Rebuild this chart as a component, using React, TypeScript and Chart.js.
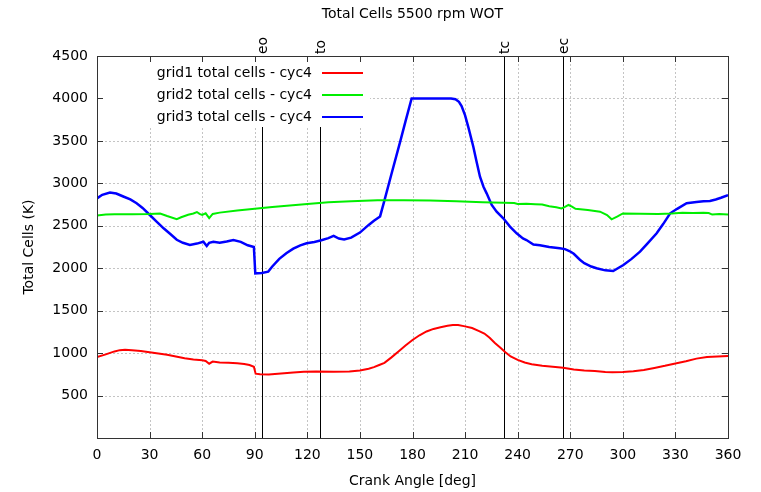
import React, { useEffect, useRef } from "react";
import { Chart, registerables } from "chart.js";

Chart.register(...registerables);

const titleText = "Total Cells 5500 rpm WOT";
const xTitle = "Crank Angle [deg]";
const yTitle = "Total Cells (K)";

const seriesNames = ["grid1 total cells - cyc4", "grid2 total cells - cyc4", "grid3 total cells - cyc4"];
const seriesColors = ["#ff0000", "#00ee00", "#0000ff"];

const eventAngles = [94, 127.5, 232, 266];
const eventLabels = ["eo", "to", "tc", "ec"];

const xTicks = [0, 30, 60, 90, 120, 150, 180, 210, 240, 270, 300, 330, 360];
const yTicks = [0, 500, 1000, 1500, 2000, 2500, 3000, 3500, 4000, 4500];

const redAngle = [0, 5, 10, 13, 16, 20, 25, 30, 35, 40, 45, 50, 55, 60, 62, 64, 66, 70, 75, 80, 84, 87, 89.5, 90.5, 93, 98, 105, 112, 118, 125, 135, 144, 150, 155, 158, 161, 164, 168, 172, 176, 180, 184, 188, 192, 196, 200, 203, 206, 210, 214, 218, 221, 224, 227, 230, 233, 236, 240, 244, 248, 254, 260, 266, 272, 278, 284, 290, 294, 300, 306, 312, 318, 324, 330, 336, 342, 348, 354, 360];
const redVal = [955, 985, 1020, 1035, 1040, 1035, 1025, 1010, 995, 980, 960, 940, 925, 915, 908, 875, 900, 890, 885, 880, 872, 860, 840, 758, 752, 748, 760, 772, 780, 782, 780, 782, 795, 815, 835, 860, 885, 950, 1020, 1090, 1155, 1210, 1255, 1285, 1305, 1322, 1332, 1330, 1315, 1295, 1260, 1230, 1180, 1120, 1065, 1010, 960, 920, 890, 870, 850, 840, 828, 808, 795, 788, 778, 774, 778, 785, 800, 825, 850, 878, 905, 935, 955, 960, 966];

const greenAngle = [0, 5, 10, 20, 30, 36, 40, 45.5, 48, 52, 55, 57, 58.5, 60, 62, 64, 66, 70, 80, 90, 100, 110, 120, 132, 145, 160, 175, 190, 205, 220, 232, 238, 240, 245, 250, 254, 258, 262, 265, 267, 269, 271, 273, 280, 287, 291, 293.6, 297, 300, 310, 320, 328, 334, 340, 346, 349, 351, 355, 360];
const greenVal = [2620, 2632, 2635, 2637, 2640, 2645, 2615, 2578, 2600, 2630, 2645, 2662, 2640, 2628, 2647, 2590, 2640, 2655, 2680, 2700, 2720, 2740, 2757, 2776, 2790, 2800, 2800, 2798, 2790, 2778, 2770, 2768, 2758, 2760, 2755, 2750, 2730, 2718, 2705, 2722, 2745, 2725, 2700, 2685, 2666, 2627, 2576, 2610, 2645, 2642, 2640, 2645, 2652, 2650, 2652, 2650, 2632, 2638, 2632];

const blueAngle = [0, 3, 7.4, 11, 15, 19, 22.6, 26, 30, 34, 38, 42, 45.5, 49, 53, 57, 60.7, 62.6, 64, 66.4, 70, 74, 77.8, 82, 86, 89.5, 90.3, 94, 97.7, 100, 104, 108, 112, 116, 119.6, 124, 128, 132, 135, 138, 141, 145, 150, 155, 158, 161.5, 164, 168, 172.9, 176, 179.5, 185, 195, 202, 204.5, 206.5, 208, 210, 212, 214.7, 216.5, 218.5, 220.5, 222.3, 225.2, 228, 231.8, 235.6, 239.4, 243, 245, 249, 252.7, 258, 264, 267, 269.8, 272, 275.5, 278, 282, 285, 290, 294.5, 300.3, 305, 309.8, 314, 319.3, 323, 327, 331, 336.4, 342, 346, 349.7, 353, 356, 360];
const blueVal = [2823, 2865, 2892, 2880, 2845, 2810, 2765, 2710, 2630, 2550, 2470, 2400, 2335, 2300, 2275, 2290, 2312, 2262, 2300, 2312, 2300, 2315, 2332, 2310, 2270, 2250, 1940, 1945, 1960, 2020, 2110, 2176, 2230, 2270, 2294, 2310, 2330, 2355, 2380, 2350, 2340, 2360, 2420, 2510, 2560, 2610, 2800, 3110, 3485, 3730, 4000, 4000, 4000, 4000, 3990, 3960, 3910, 3800, 3650, 3431, 3260, 3078, 2960, 2882, 2745, 2666, 2588, 2490, 2411, 2350, 2332, 2280, 2270, 2250, 2234, 2225, 2200, 2170, 2100, 2060, 2020, 1999, 1975, 1967, 2038, 2110, 2195, 2290, 2411, 2520, 2647, 2700, 2765, 2780, 2790, 2792, 2810, 2830, 2862];

const FONT = "'DejaVu Sans', sans-serif";

function pts(xs: number[], ys: number[]) {
  return xs.map((x, i) => ({ x, y: ys[i] }));
}

const decorPlugin = {
  id: "decor",
  beforeDatasetsDraw(chart: any) {
    const { ctx, chartArea: a, scales } = chart;
    const xs = scales.x;
    const ys = scales.y;
    ctx.save();
    ctx.strokeStyle = "#c4c4c4";
    ctx.lineWidth = 1;
    ctx.setLineDash([2, 2]);
    xTicks.forEach((t) => {
      if (t <= 0 || t >= 360) return;
      const px = Math.round(xs.getPixelForValue(t)) + 0.5;
      ctx.beginPath();
      ctx.moveTo(px, a.top);
      ctx.lineTo(px, a.bottom);
      ctx.stroke();
    });
    yTicks.forEach((t) => {
      if (t <= 0 || t >= 4500) return;
      const py = Math.round(ys.getPixelForValue(t)) + 0.5;
      ctx.beginPath();
      ctx.moveTo(a.left, py);
      ctx.lineTo(a.right, py);
      ctx.stroke();
    });
    ctx.setLineDash([]);
    ctx.strokeStyle = "#000";
    eventAngles.forEach((ang) => {
      const px = Math.round(xs.getPixelForValue(ang)) + 0.5;
      ctx.beginPath();
      ctx.moveTo(px, a.top);
      ctx.lineTo(px, a.bottom);
      ctx.stroke();
    });
    ctx.fillStyle = "#000";
    ctx.font = `14px ${FONT}`;
    eventAngles.forEach((ang, i) => {
      const px = Math.round(xs.getPixelForValue(ang)) + 1.5;
      ctx.save();
      ctx.translate(px, a.top - 2);
      ctx.rotate(-Math.PI / 2);
      ctx.textAlign = "left";
      ctx.textBaseline = "middle";
      ctx.fillText(eventLabels[i], 0, 0);
      ctx.restore();
    });
    ctx.fillStyle = "#fff";
    ctx.fillRect(a.left + 1, a.top + 1, 272, 70);
    ctx.font = `14px ${FONT}`;
    ctx.textAlign = "right";
    ctx.textBaseline = "middle";
    seriesNames.forEach((name, i) => {
      const y = a.top + 17 + i * 22;
      ctx.fillStyle = "#000";
      ctx.fillText(name, 312, y);
      ctx.strokeStyle = seriesColors[i];
      ctx.lineWidth = 2;
      ctx.beginPath();
      ctx.moveTo(322, y);
      ctx.lineTo(363, y);
      ctx.stroke();
    });
    ctx.restore();
  },
  afterDatasetsDraw(chart: any) {
    const { ctx, chartArea: a, scales } = chart;
    const xs = scales.x;
    const ys = scales.y;
    ctx.save();
    ctx.strokeStyle = "#333";
    ctx.lineWidth = 1;
    const L = 6;
    xTicks.forEach((t) => {
      const px = Math.round(xs.getPixelForValue(t)) + 0.5;
      ctx.beginPath();
      ctx.moveTo(px, a.bottom);
      ctx.lineTo(px, a.bottom - L);
      ctx.moveTo(px, a.top);
      ctx.lineTo(px, a.top + L);
      ctx.stroke();
    });
    yTicks.forEach((t) => {
      const py = Math.round(ys.getPixelForValue(t)) + 0.5;
      ctx.beginPath();
      ctx.moveTo(a.left, py);
      ctx.lineTo(a.left + L, py);
      ctx.moveTo(a.right, py);
      ctx.lineTo(a.right - L, py);
      ctx.stroke();
    });
    ctx.strokeRect(Math.round(a.left) + 0.5, Math.round(a.top) + 0.5, Math.round(a.right - a.left), Math.round(a.bottom - a.top));
    ctx.restore();
  },
  afterDraw(chart: any) {
    const { ctx, chartArea: a } = chart;
    ctx.save();
    ctx.fillStyle = "#000";
    ctx.font = `14px ${FONT}`;
    ctx.textAlign = "center";
    ctx.textBaseline = "middle";
    const cx = (a.left + a.right) / 2;
    ctx.fillText(titleText, cx, 14);
    ctx.fillText(xTitle, cx, 481);
    ctx.translate(29, (a.top + a.bottom) / 2);
    ctx.rotate(-Math.PI / 2);
    ctx.fillText(yTitle, 0, 0);
    ctx.restore();
  },
};

export default function App() {
  const ref = useRef<HTMLCanvasElement | null>(null);
  useEffect(() => {
    document.body.style.margin = "0";
    const canvas = ref.current;
    if (!canvas) return;
    Chart.defaults.font.family = FONT;
    const chart = new Chart(canvas, {
      type: "line",
      data: {
        datasets: [
          { label: seriesNames[0], data: pts(redAngle, redVal), borderColor: seriesColors[0], borderWidth: 2, pointRadius: 0, tension: 0, fill: false },
          { label: seriesNames[1], data: pts(greenAngle, greenVal), borderColor: seriesColors[1], borderWidth: 2, pointRadius: 0, tension: 0, fill: false },
          { label: seriesNames[2], data: pts(blueAngle, blueVal), borderColor: seriesColors[2], borderWidth: 2.5, pointRadius: 0, tension: 0, fill: false },
        ],
      },
      options: {
        animation: false,
        responsive: false,
        maintainAspectRatio: false,
        layout: { padding: { top: 56, right: 33, left: 0, bottom: 0 } },
        plugins: { legend: { display: false }, title: { display: false }, tooltip: { enabled: false } },
        scales: {
          x: {
            type: "linear",
            min: 0,
            max: 360,
            afterFit: (s: any) => { s.height = 54; },
            afterBuildTicks: (s: any) => { s.ticks = xTicks.map((v) => ({ value: v })); },
            ticks: { color: "#000", font: { size: 14, family: FONT }, padding: 9, maxRotation: 0, autoSkip: false, callback: (v: any) => String(v) },
            grid: { display: false, drawTicks: false },
            border: { display: false },
          },
          y: {
            type: "linear",
            min: 0,
            max: 4500,
            afterFit: (s: any) => { s.width = 97; },
            afterBuildTicks: (s: any) => { s.ticks = yTicks.map((v) => ({ value: v })); },
            ticks: { color: "#000", font: { size: 14, family: FONT }, padding: 9, autoSkip: false, callback: (v: any) => (v === 0 ? "" : String(v)) },
            grid: { display: false, drawTicks: false },
            border: { display: false },
          },
        },
      },
      plugins: [decorPlugin],
    } as any);
    return () => chart.destroy();
  }, []);
  return (
    <div style={{ width: 761, height: 492 }}>
      <canvas ref={ref} width={761} height={492} style={{ width: 761, height: 492, display: "block" }} />
    </div>
  );
}
